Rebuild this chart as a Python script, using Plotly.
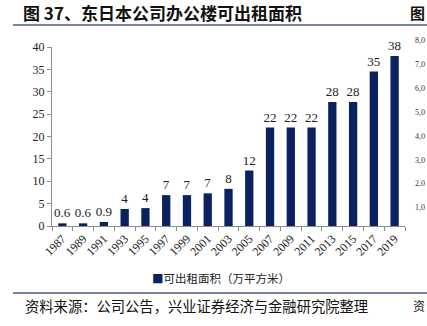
import plotly.graph_objects as go

years = ["1987", "1989", "1991", "1993", "1995", "1997", "1999", "2001", "2003",
         "2005", "2007", "2009", "2011", "2013", "2015", "2017", "2019"]
area = [0.6, 0.6, 0.9, 3.8, 4.0, 6.9, 6.9, 7.3, 8.3, 12.4, 22.0, 22.0, 22.0,
        27.7, 27.7, 34.5, 38.0]
labels = ["0.6", "0.6", "0.9", "4", "4", "7", "7", "7", "8", "12", "22", "22",
          "22", "28", "28", "35", "38"]
y_ticks = [0, 5, 10, 15, 20, 25, 30, 35, 40]
series_name = "可出租面积（万平方米）"
title_text = "图 37、东日本公司办公楼可出租面积"
source_text = "资料来源：公司公告，兴业证券经济与金融研究院整理"
neighbor_ticks = ["8,0", "7,0", "6,0", "5,0", "4,0", "3,0", "2,0", "1,0"]

W, H = 427, 326
L, R, T, B = 52, 405, 47, 226  # plot area in pixels


def px(x):
    return (x - L) / (R - L)


def py(y):
    return (B - y) / (B - T)


SERIF = "Liberation Serif, Times New Roman, serif"
CJK = "Noto Sans CJK SC"
NAVY = "#0b2260"
LINE = "#4b5a86"

fig = go.Figure()
fig.add_trace(go.Bar(
    x=years, y=area, name=series_name, text=labels,
    textposition="outside", cliponaxis=False, constraintext="none",
    textfont=dict(family=SERIF, size=13, color="#222"),
    marker=dict(color=NAVY, line=dict(width=0)),
    showlegend=False,
))

annotations = [
    dict(text="<b>" + title_text + "</b>", x=px(21), y=py(12), xref="paper", yref="paper",
         xanchor="left", yanchor="middle", showarrow=False,
         font=dict(family=CJK, size=17, color="#111")),
    dict(text=source_text, x=px(23), y=py(305), xref="paper", yref="paper",
         xanchor="left", yanchor="middle", showarrow=False,
         font=dict(family=CJK, size=14.3, color="#111")),
    dict(text="<span style='color:%s'>■</span>%s" % (NAVY, series_name),
         x=px(221), y=py(278), xref="paper", yref="paper",
         xanchor="center", yanchor="middle", showarrow=False,
         font=dict(family=CJK, size=11.5, color="#222")),
    dict(text="<b>图</b>", x=px(427), y=py(12), xref="paper", yref="paper",
         xanchor="right", yanchor="middle", showarrow=False,
         font=dict(family=CJK, size=15, color="#111")),
    dict(text="资", x=px(427), y=py(305), xref="paper", yref="paper",
         xanchor="right", yanchor="middle", showarrow=False,
         font=dict(family=CJK, size=12, color="#111")),
]
for i, t in enumerate(neighbor_ticks):
    annotations.append(dict(text=t, x=px(427), y=py(41 + i * 23.8), xref="paper", yref="paper",
                            xanchor="right", yanchor="middle", showarrow=False,
                            font=dict(family=SERIF, size=8, color="#333")))

shapes = [
    dict(type="line", xref="paper", yref="paper", x0=px(13), x1=px(427), y0=py(25), y1=py(25),
         line=dict(color=LINE, width=1.5)),
    dict(type="line", xref="paper", yref="paper", x0=px(13), x1=px(427), y0=py(293), y1=py(293),
         line=dict(color=LINE, width=1.5)),
]

fig.update_layout(
    width=W, height=H,
    margin=dict(l=L, r=W - R, t=T, b=H - B, pad=0),
    paper_bgcolor="white", plot_bgcolor="white",
    bargap=0.6,
    showlegend=False,
    annotations=annotations,
    shapes=shapes,
    xaxis=dict(
        type="category", range=[-0.5, len(years) - 0.5],
        showline=True, linecolor="#8c8c8c", linewidth=1,
        ticks="outside", tickson="boundaries", ticklen=4, tickcolor="#8c8c8c",
        tickangle=-45, tickfont=dict(family=SERIF, size=12, color="#222"),
        showgrid=False, zeroline=False,
    ),
    yaxis=dict(
        range=[0, 40], tickvals=y_ticks,
        showline=True, linecolor="#8c8c8c", linewidth=1,
        ticks="outside", ticklen=4, tickcolor="#8c8c8c",
        tickfont=dict(family=SERIF, size=12, color="#222"),
        showgrid=False, zeroline=False,
    ),
)

fig.write_html("out.html")
